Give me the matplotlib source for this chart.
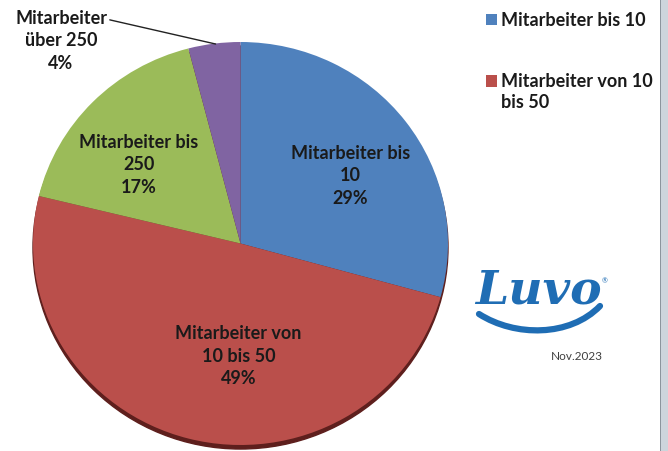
import matplotlib
matplotlib.use("Agg")
import matplotlib.pyplot as plt
from matplotlib.patches import Ellipse, Rectangle, PathPatch
from matplotlib.path import Path

# data
labels = ["Mitarbeiter bis\n10", "Mitarbeiter von\n10 bis 50", "Mitarbeiter bis\n250", "Mitarbeiter\nüber 250"]
shares = [29, 49, 17, 4]
colors = ["#4F81BD", "#BA4F4B", "#9BBB59", "#8064A2"]
legend_labels = ["Mitarbeiter bis 10", "Mitarbeiter von 10\nbis 50"]
stamp = "Nov.2023"

plt.rcParams["font.family"] = ["Lato", "DejaVu Sans"]

W, H = 668, 451
fig = plt.figure(figsize=(W / 100, H / 100), dpi=100)
fig.patch.set_facecolor("white")


def fx(px):
    return px / W


def fy(py):
    return 1 - py / H


# pie as a slightly squashed disc
cx, cy, rx, ry = 240.5, 243.5, 207.5, 201.5
ax = fig.add_axes([(cx - rx) / W, (H - cy - ry) / H, 2 * rx / W, 2 * ry / H])

wedges, _ = ax.pie(shares, colors=colors, startangle=90, counterclock=False,
                   radius=1, wedgeprops=dict(linewidth=0))
for w in wedges:
    w.set_zorder(1)
    w.set_clip_on(False)
ax.set_aspect("auto")
ax.set_xlim(-1, 1)
ax.set_ylim(-1, 1)
ax.axis("off")

# dark rim under the disc
ax.add_patch(Ellipse((0, -0.02), 2.0, 2.0, color="#5E1F1D", zorder=0, clip_on=False))

fs = 13
ls = 1.4
txt = "#1a1a1a"
pos = [(0.53, 0.335), (-0.01, -0.56), (-0.49, 0.39)]
for i in range(3):
    ax.text(pos[i][0], pos[i][1], f"{labels[i]}\n{shares[i]}%", ha="center", va="center",
            fontsize=fs, fontweight="bold", color=txt, linespacing=ls, zorder=3)

# outside label with leader line for the small slice
ax.annotate(f"{labels[3]}\n{shares[3]}%", xy=(-0.12, 0.99), xytext=(-0.865, 1.005),
            ha="center", va="center", fontsize=fs, fontweight="bold", color=txt,
            linespacing=ls, annotation_clip=False,
            arrowprops=dict(arrowstyle="-", color="#222222", lw=1,
                            shrinkA=0, shrinkB=0, relpos=(0.97, 0.86)))

# legend (square lines up with the first text line)
for i, (lab, c) in enumerate(zip(legend_labels, colors)):
    yc = 19.5 + 61.5 * i
    fig.patches.append(Rectangle((fx(486), fy(yc + 5.5)), 11 / W, 11 / H,
                                 transform=fig.transFigure, facecolor=c, edgecolor="none"))
    fig.text(fx(501), fy(yc - 8), lab, ha="left", va="top", fontsize=fs,
             fontweight="bold", color=txt, linespacing=1.3)

# Luvo logo
blue = "#1F6DB4"
fig.text(fx(538), fy(290), "Luvo", ha="center", va="center", fontsize=34,
         fontweight="bold", style="italic", family="DejaVu Serif", color=blue)
fig.text(fx(605), fy(281), "®", ha="center", va="center", fontsize=5, color=blue)
verts = [(fx(479), fy(314)), (fx(515), fy(337)), (fx(570), fy(337)), (fx(600), fy(306))]
swoosh = Path(verts, [Path.MOVETO, Path.CURVE4, Path.CURVE4, Path.CURVE4])
fig.patches.append(PathPatch(swoosh, transform=fig.transFigure, fill=False, lw=4.5,
                             edgecolor=blue, capstyle="round"))
fig.text(fx(577), fy(357), stamp, ha="center", va="center", fontsize=8.5, color="#404040")

# frame strip on the right edge
fig.patches.append(Rectangle((fx(660), 0), 8 / W, 1, transform=fig.transFigure,
                             facecolor="#CDD5DC", edgecolor="none"))
fig.patches.append(Rectangle((fx(659.5), 0), 1.2 / W, 1, transform=fig.transFigure,
                             facecolor="#8C959D", edgecolor="none"))

fig.savefig("out.png", dpi=100)
